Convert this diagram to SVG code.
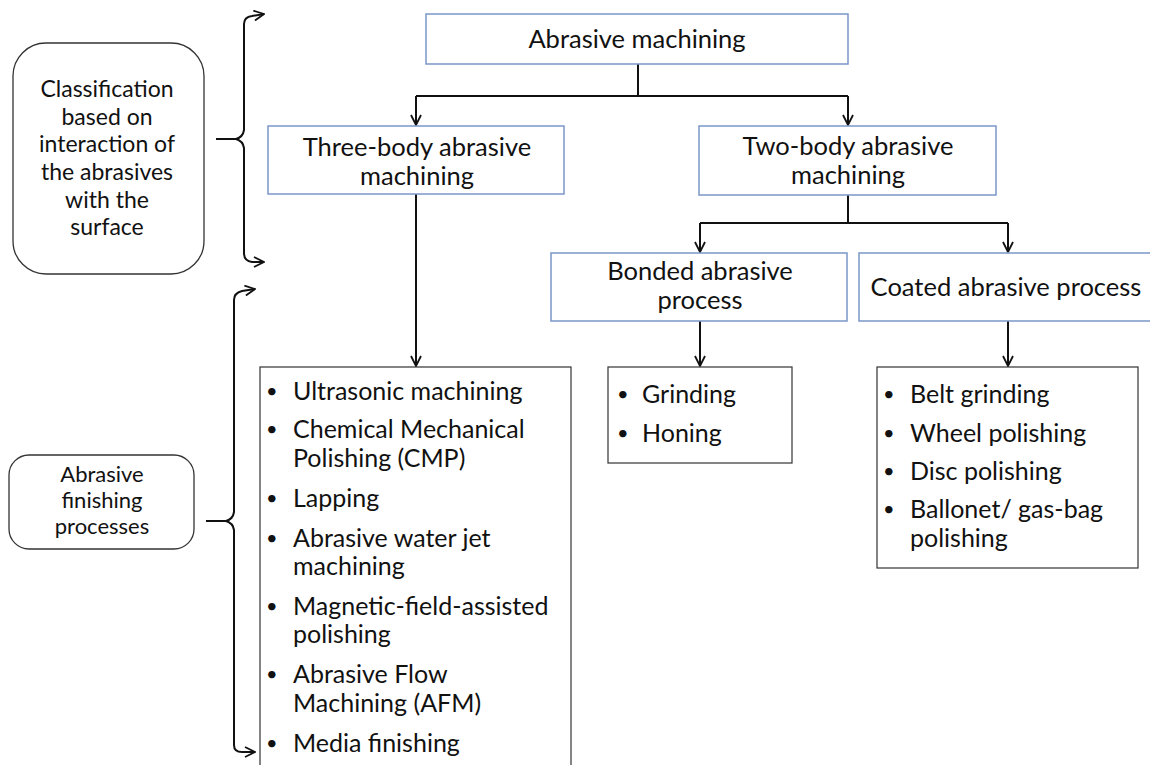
<svg xmlns="http://www.w3.org/2000/svg" width="1150" height="765" viewBox="0 0 1150 765">
  <style>
    text { font-family: Lato, "Open Sans", "Liberation Sans", sans-serif; fill: #111; }
    .hdr { font-size: 25.5px; text-anchor: middle; }
    .side { font-size: 23px; text-anchor: middle; }
    .side2 { font-size: 22px; text-anchor: middle; }
    .item { font-size: 25px; }
    .dot { font-size: 20px; }
    .blue { fill: #fff; stroke: #7b96c8; stroke-width: 1.5; }
    .list { fill: #fff; stroke: #333; stroke-width: 1.2; }
    .round { fill: #fff; stroke: #333; stroke-width: 1.3; }
    .conn { fill: none; stroke: #111; stroke-width: 2; }
  </style>
  <defs>
    <marker id="open" viewBox="0 0 12 12" refX="11" refY="6" markerWidth="12" markerHeight="12" markerUnits="userSpaceOnUse" orient="auto">
      <path d="M1 1 L11 6 L1 11" fill="none" stroke="#111" stroke-width="1.8"/>
    </marker>
  </defs>
  <rect width="1150" height="765" fill="#fff"/>

  <!-- connectors -->
  <g id="connectors" class="conn">
    <path d="M638 64 V96 M416 96 H848"/>
    <path d="M416 96 V125" marker-end="url(#open)"/>
    <path d="M848 96 V125" marker-end="url(#open)"/>
    <path d="M416 194 V366" marker-end="url(#open)"/>
    <path d="M848 195 V223 M700 223 H1008"/>
    <path d="M700 223 V252" marker-end="url(#open)"/>
    <path d="M1008 223 V252" marker-end="url(#open)"/>
    <path d="M700 321 V366" marker-end="url(#open)"/>
    <path d="M1008 321 V366" marker-end="url(#open)"/>
    <!-- braces -->
    <path d="M216 139 H236 Q243 137 244 130 V24 Q244 17 252 16 L264 14" marker-end="url(#open)"/>
    <path d="M236 139 Q243 141 244 148 V253 Q244 261 252 262 L264 262" marker-end="url(#open)"/>
    <path d="M206 521 H226 Q233 519 234 512 V300 Q234 293 242 291 L255 289" marker-end="url(#open)"/>
    <path d="M226 521 Q233 523 234 530 V745 Q234 752 242 752 L255 752" marker-end="url(#open)"/>
  </g>

  <g id="side-classification">
    <rect class="round" x="13" y="43" width="191" height="231" rx="33"/>
    <text class="side" x="107" y="97">Classification</text>
    <text class="side" x="107" y="125">based on</text>
    <text class="side" x="107" y="152">interaction of</text>
    <text class="side" x="107" y="180">the abrasives</text>
    <text class="side" x="107" y="208">with the</text>
    <text class="side" x="107" y="235">surface</text>
  </g>

  <g id="side-finishing">
    <rect class="round" x="9" y="455" width="185" height="94" rx="20"/>
    <text class="side2" x="102" y="482">Abrasive</text>
    <text class="side2" x="102" y="508">finishing</text>
    <text class="side2" x="102" y="534">processes</text>
  </g>

  <g id="abrasive-machining">
    <rect class="blue" x="426" y="14" width="422" height="50"/>
    <text class="hdr" x="637" y="48">Abrasive machining</text>
  </g>

  <g id="three-body">
    <rect class="blue" x="268" y="126" width="296" height="68"/>
    <text class="hdr" x="417" y="156">Three-body abrasive</text>
    <text class="hdr" x="417" y="185">machining</text>
  </g>

  <g id="two-body">
    <rect class="blue" x="699" y="126" width="297" height="69"/>
    <text class="hdr" x="848" y="155">Two-body abrasive</text>
    <text class="hdr" x="848" y="184">machining</text>
  </g>

  <g id="bonded">
    <rect class="blue" x="551" y="253" width="296" height="68"/>
    <text class="hdr" x="700" y="280">Bonded abrasive</text>
    <text class="hdr" x="700" y="309">process</text>
  </g>

  <g id="coated">
    <rect class="blue" x="859" y="253" width="300" height="68"/>
    <text class="hdr" x="1006" y="296">Coated abrasive process</text>
  </g>

  <g id="three-body-list">
    <rect class="list" x="260" y="367" width="311" height="410"/>
    <g class="dot">
      <text x="266" y="398">•</text>
      <text x="266" y="436">•</text>
      <text x="266" y="505">•</text>
      <text x="266" y="545">•</text>
      <text x="266" y="613">•</text>
      <text x="266" y="681">•</text>
      <text x="266" y="750">•</text>
    </g>
    <g class="item">
      <text x="293" y="400">Ultrasonic machining</text>
      <text x="293" y="438">Chemical Mechanical</text>
      <text x="293" y="467">Polishing (CMP)</text>
      <text x="293" y="507">Lapping</text>
      <text x="293" y="547">Abrasive water jet</text>
      <text x="293" y="575">machining</text>
      <text x="293" y="615">Magnetic-field-assisted</text>
      <text x="293" y="643">polishing</text>
      <text x="293" y="683">Abrasive Flow</text>
      <text x="293" y="712">Machining (AFM)</text>
      <text x="293" y="752">Media finishing</text>
    </g>
  </g>

  <g id="bonded-list">
    <rect class="list" x="608" y="367" width="184" height="96"/>
    <g class="dot">
      <text x="617" y="401">•</text>
      <text x="617" y="440">•</text>
    </g>
    <g class="item">
      <text x="642" y="403">Grinding</text>
      <text x="642" y="442">Honing</text>
    </g>
  </g>

  <g id="coated-list">
    <rect class="list" x="877" y="367" width="261" height="201"/>
    <g class="dot">
      <text x="883" y="401">•</text>
      <text x="883" y="440">•</text>
      <text x="883" y="478">•</text>
      <text x="883" y="516">•</text>
    </g>
    <g class="item">
      <text x="910" y="403">Belt grinding</text>
      <text x="910" y="442">Wheel polishing</text>
      <text x="910" y="480">Disc polishing</text>
      <text x="910" y="518">Ballonet/ gas-bag</text>
      <text x="910" y="547">polishing</text>
    </g>
  </g>
</svg>
